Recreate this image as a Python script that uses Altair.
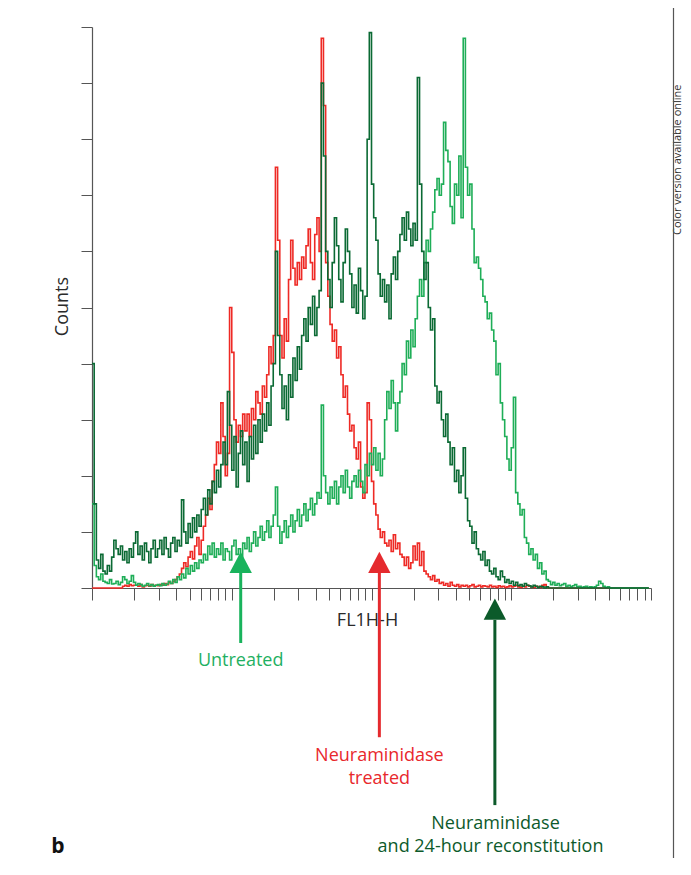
import altair as alt
import numpy as np
import pandas as pd

# ---- histogram counts (256 channels, 4 log decades) ----
red = [
    0, 0, 0, 0, 0, 0, 0, 0, 0, 0,
    0, 0, 0, 0, 0.3, 0.5, 0.3, 0.6, 0.4, 0.5,
    0.5, 0.3, 0.6, 0.2, 0.4, 0.5, 0.3, 0.6, 0.4, 0.5,
    0.4, 0.6, 0.5, 0.8, 0.6, 1.0, 0.8, 1.2, 1.5, 2.0,
    2.5, 3.5, 4.5, 3.8, 5.5, 6.5, 5.2, 7.5, 9.0, 6.0,
    8.5, 11, 13, 16, 14, 19, 22, 26, 24, 33,
    27, 20, 24, 50, 42, 30, 26, 29, 27, 31,
    28, 31, 27, 32, 30, 35, 33, 31, 36, 34,
    38, 43, 40, 45, 75, 62, 45, 41, 48, 44,
    55, 62, 57, 54, 58, 55, 59, 57, 61, 64,
    58, 55, 63, 66, 60, 98, 86, 58, 52, 47,
    44, 46, 41, 43, 38, 34, 36, 31, 28, 29,
    25, 23, 26, 18, 16, 17, 33, 30, 19, 15,
    13, 10.5, 9, 10, 8, 7.5, 8.5, 6.5, 9.5, 7,
    8, 6, 5.5, 4, 5.5, 3.5, 4.5, 7.5, 5, 8,
    4, 6.5, 3, 2.5, 2, 1.5, 2.2, 1.2, 1.5, 0.8,
    1.0, 0.5, 0.8, 0.3, 1.0, 0.5, 0.3, 0.6, 0.2, 0.5,
    0.3, 0.5, 0.2, 0.4, 0.6, 0.2, 0.3, 0.5, 0.2, 0.4,
    0.3, 0.2, 0.5, 0.2, 0.3, 0.1, 0.4, 0.2, 0.3, 0.1,
    0.2, 0.4, 0.2, 0.3, 0.5, 0.2, 0.1, 0.3, 0.2, 0.5,
    0.3, 0.2, 0.1, 0.3, 0.2, 0.1, 0.5, 0.6, 0.2, 0,
    0, 0, 0, 0, 0, 0, 0, 0, 0, 0,
    0, 0, 0, 0, 0, 0, 0, 0, 0, 0,
    0, 0, 0, 0, 0, 0, 0, 0, 0, 0,
    0, 0, 0, 0, 0, 0, 0, 0, 0, 0,
    0, 0, 0, 0, 0, 0,
]

untreated = [
    15, 4, 2, 1.5, 2.5, 1.2, 1, 0.8, 1.5, 0.7,
    0.8, 1.2, 0.6, 1.0, 2.0, 1.5, 0.8, 1.2, 2.2, 1.0,
    0.5, 0.8, 0.6, 0.3, 0.5, 0.8, 0.4, 0.6, 0.3, 0.5,
    0.6, 0.4, 0.8, 0.5, 0.7, 1.2, 0.8, 1.5, 1.0, 2.0,
    1.5, 2.5, 1.8, 3.5, 2.5, 4, 3, 4.5, 3.5, 5,
    4.5, 6, 5, 7.5, 6, 8, 5.5, 7, 6, 8,
    5, 7, 6.5, 5, 7.5, 8.5, 6, 7, 5.5, 8,
    7, 9, 6.5, 8, 10, 7.5, 9, 11, 8.5, 10,
    12, 9, 11, 13, 18, 11, 8, 10, 12, 9,
    11, 13, 10, 12, 14, 11, 13, 15, 12, 14,
    16, 13, 15, 17, 16, 32.6, 20, 17, 15, 18,
    16, 19, 15, 18, 20, 17, 21, 18, 16, 19,
    20, 18, 21, 19, 17, 22, 20, 24, 22, 25,
    21, 24, 20, 23, 30, 35, 32, 37, 33, 28,
    33, 35, 40, 38, 44, 41, 46, 43, 48, 52,
    55, 52, 58, 62, 60, 64, 67, 71, 73, 70,
    72, 83, 78, 76, 68, 65, 72, 70, 77, 66,
    98, 75, 70, 72, 64, 58, 59, 57, 55, 52,
    51, 48, 49, 46, 44, 38, 40, 33, 30, 27,
    23, 21, 25, 34, 17, 15, 13, 14, 9, 8,
    6, 7, 5, 6, 3.5, 4.5, 2.5, 3, 1.5, 1.2,
    0.6, 1.0, 0.5, 0.8, 0.4, 0.6, 0.8, 0.3, 0.5, 0.2,
    0.4, 0.6, 0.2, 0.3, 0.1, 0.2, 0.3, 0.1, 0.2, 0.1,
    0.2, 0.5, 1.2, 0.8, 0.3, 0.1, 0.2, 0, 0, 0,
    0, 0, 0, 0, 0, 0, 0, 0, 0, 0,
    0, 0, 0, 0, 0, 0,
]

reconst = [
    40, 15, 5, 3.5, 6, 3, 2.5, 4, 3, 5.5,
    8.5, 7, 6, 7.5, 5, 6.5, 4.5, 7, 5.5, 8,
    10, 6, 7.5, 5, 8, 6.5, 4.5, 7, 8.5, 5.5,
    7, 8.5, 6, 9, 7, 5.5, 8, 9, 6.5, 8.5,
    7.5, 15.7, 10, 8, 11.5, 9, 12.5, 10, 13, 11,
    14, 16, 13, 17.5, 15, 19, 17, 21, 18, 22,
    26, 22, 35, 29, 21, 27, 18, 24, 28, 22,
    26, 19, 27, 23, 29, 24, 30, 26, 31, 28,
    33, 29, 36, 40, 60, 45, 38, 32, 36, 30,
    38, 34, 41, 37, 43, 39, 45, 48, 44, 50,
    47, 52, 45, 50, 53, 90, 77, 60, 55, 50,
    58, 66, 61, 55, 51, 58, 64, 60, 56, 50,
    54, 49, 57, 53, 48, 52, 80, 99, 72, 66,
    62, 56, 52, 55, 51, 54, 48, 56, 59, 55,
    60, 63, 66, 62, 67, 64, 61, 65, 62, 91,
    72, 60, 55, 58, 50, 46, 48, 36, 33, 35,
    30, 27, 31, 26, 22, 25, 19, 21, 17, 20,
    25, 16, 12, 11, 8, 10, 7, 6, 5, 6.5,
    4, 5, 3, 2.5, 3.5, 2, 1.5, 3, 2, 1,
    1.5, 0.8, 1.2, 0.5, 1, 0.4, 0.6, 0.3, 0.8, 0.5,
    0.4, 0.2, 0.5, 0.3, 0.1, 0.3, 0.2, 0, 0.2, 0,
    0, 0, 0, 0, 0, 0, 0, 0, 0, 0,
    0, 0, 0, 0, 0, 0, 0, 0, 0, 0,
    0, 0, 0, 0, 0, 0, 0, 0, 0, 0,
    0, 0, 0, 0, 0, 0, 0, 0, 0, 0,
    0, 0, 0, 0, 0, 0,
]

# arrows (channel positions, data units) and their labels
arrow_channels = [68.1, 131.6, 184.5]
arrow_tail = [-9.8, -26.6, -38.7]
arrow_neck = [2.7, 2.8, -5.7]
arrow_head = [4.55, 4.55, -3.75]
label_lines = ["Untreated", "Neuraminidase", "treated", "Neuraminidase", "and 24-hour reconstitution"]
label_channels = [68.1, 131.6, 131.6, 184.8, 182.5]
label_counts = [-13.0, -29.95, -34.05, -42.1, -46.2]
label_group = [0, 1, 1, 2, 2]

# ---- styles ----
C_RED = "#ee2a25"
C_LG = "#1fae58"
C_DG = "#0b6a34"
ARROW_COL = ["#19b35c", "#e52a2e", "#0c5a2a"]
TEXT_COL = ["#1fb062", "#e8282c", "#0d5a2b"]
FONT = "Open Sans"

channels = list(range(len(red)))
df_red = pd.DataFrame({"channel": channels, "count": red})
df_lg = pd.DataFrame({"channel": channels, "count": untreated})
df_dg = pd.DataFrame({"channel": channels, "count": reconst})

# log-decade ticks over channels (64 channels per decade)
tick_vals = [float(64 * np.log10(k * 10 ** d)) for d in range(4) for k in range(1, 10)] + [256.0]

xscale = alt.Scale(domain=[0, 256], nice=False, zero=False)
yscale = alt.Scale(domain=[0, 100], nice=False, zero=False)

x_axis = alt.Axis(values=tick_vals, labels=False, tickSize=12, title="FL1H-H",
                  titleX=275, titleY=32, titleBaseline="middle", titleAlign="center",
                  titleFont=FONT, titleFontSize=18, titleFontWeight="normal", titleColor="#2a2a2a",
                  grid=False, domainColor="#555", tickColor="#555", domainWidth=1.2, tickWidth=1)
y_axis = alt.Axis(values=list(range(0, 101, 10)), labels=False, tickSize=11, title="Counts",
                  titleX=-30, titleY=279, titleBaseline="middle", titleAlign="center", titleAngle=270,
                  titleFont=FONT, titleFontSize=18, titleFontWeight="normal", titleColor="#2a2a2a",
                  grid=False, domainColor="#555", tickColor="#555", domainWidth=1.2, tickWidth=1)

X = alt.X("channel:Q", scale=xscale, axis=x_axis)

def hist(df, color):
    return alt.Chart(df).mark_line(interpolate="step-after", color=color, strokeWidth=1.6).encode(
        x=X, y=alt.Y("count:Q", scale=yscale, axis=y_axis)
    )

line_red = hist(df_red, C_RED)
line_lg = hist(df_lg, C_LG)
line_dg = hist(df_dg, C_DG)

arrow_df = pd.DataFrame({
    "channel": arrow_channels,
    "color": ARROW_COL,
    "count": arrow_neck,
    "tail": arrow_tail,
    "head": arrow_head,
})
shafts = alt.Chart(arrow_df).mark_rule(strokeWidth=3).encode(
    x=X,
    y=alt.Y("count:Q", scale=yscale, axis=y_axis),
    y2="tail:Q",
    color=alt.Color("color:N", scale=None, legend=None),
)
heads = alt.Chart(arrow_df).mark_point(
    shape="M0,-0.95L1,0.95L-1,0.95Z", size=500, filled=True, opacity=1, strokeWidth=0
).encode(
    x=X,
    y=alt.Y("head:Q", scale=yscale, axis=y_axis),
    color=alt.Color("color:N", scale=None, legend=None),
)

label_df = pd.DataFrame({
    "channel": label_channels,
    "count": label_counts,
    "text": label_lines,
    "color": [TEXT_COL[g] for g in label_group],
})
labels = alt.Chart(label_df).mark_text(
    font=FONT, fontSize=18, align="center", baseline="middle"
).encode(
    x=X,
    y=alt.Y("count:Q", scale=yscale, axis=y_axis),
    text="text:N",
    color=alt.Color("color:N", scale=None, legend=None),
)

one = pd.DataFrame({"t": ["b"]})
panel_letter = alt.Chart(one).mark_text(
    font=FONT, fontSize=21, fontWeight="bold", align="center", baseline="middle", color="#111"
).encode(x=alt.value(-34), y=alt.value(820), text="t:N")

side = pd.DataFrame({"t": ["Color version available online"]})
side_note = alt.Chart(side).mark_text(
    font=FONT, fontSize=11, angle=270, align="left", baseline="middle", color="#333"
).encode(x=alt.value(585.5), y=alt.value(208), text="t:N")

frame = alt.Chart(pd.DataFrame({"a": [0]})).mark_rule(color="#555", strokeWidth=1.2).encode(
    x=alt.value(581.5), y=alt.value(-19), y2=alt.value(831)
)

chart = alt.layer(
    line_red, line_lg, line_dg, shafts, heads, labels, panel_letter, side_note, frame
).properties(
    width=559, height=561,
    background="white",
    autosize=alt.AutoSizeParams(type="none"),
    padding={"left": 84, "top": 19, "right": 32, "bottom": 270},
).configure_view(strokeWidth=0, stroke="transparent")

chart.save("out.html", embed_options={"renderer": "svg", "actions": False})
